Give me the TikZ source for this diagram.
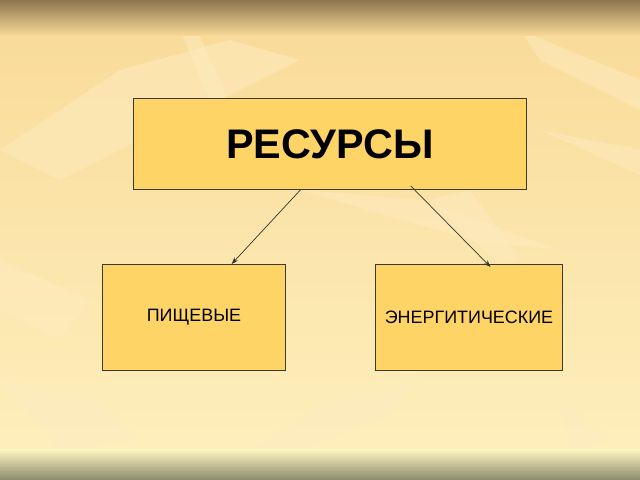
\documentclass[tikz,border=0pt]{standalone}
\usepackage{fontspec}
\setmainfont{Liberation Sans}
\usetikzlibrary{calc,arrows.meta}
\definecolor{bgbeige}{HTML}{F9DA98}
\definecolor{bgpale}{HTML}{FDF0BE}
\definecolor{leaflight}{HTML}{FDEBC0}
\definecolor{bandtop}{HTML}{8C7650}
\definecolor{bandbot}{HTML}{8A8A6C}
\definecolor{bandpale}{HTML}{FFF7C2}
\definecolor{boxfill}{HTML}{FFD466}
\definecolor{boxline}{HTML}{3C3A2C}
\tikzset{
  resbox/.style={draw=boxline,line width=0.9bp,fill=boxfill,inner sep=0pt},
  link/.style={draw=black!80,line width=0.7bp,-{Stealth[length=7bp,width=5bp]}},
  leaf/.style={fill=leaflight,opacity=0.5,draw=none}
}
\begin{document}
\begin{tikzpicture}[x=1bp,y=-1bp]
    \useasboundingbox (0,0) rectangle (640,480);
    % background of the slide
    \shade[top color=bgbeige,bottom color=bgpale] (0,0) rectangle (640,480);
    % faint leaves
    \fill[leaf] (0,150) -- (120,70) -- (230,40) -- (300,60) -- (200,110) -- (60,180) -- cycle;
    \fill[leaf] (180,30) -- (195,25) -- (250,150) -- (235,160) -- cycle;
    \fill[leaf] (300,190) -- (420,200) -- (560,250) -- (470,240) -- cycle;
    \fill[leaf] (520,30) -- (640,80) -- (640,110) -- (540,60) -- cycle;
    \fill[leaf] (540,130) -- (640,150) -- (640,175) -- cycle;
    \fill[leaf] (0,260) -- (90,300) -- (60,340) -- (0,310) -- cycle;
    \fill[leaf] (250,450) -- (330,400) -- (420,380) -- (380,420) -- (300,450) -- cycle;
    \fill[leaf] (560,400) -- (610,440) -- (570,450) -- cycle;
    \fill[leaf] (430,200) -- (470,190) -- (520,260) -- (500,265) -- cycle;
    \fill[leaf] (0,380) -- (100,400) -- (140,440) -- (60,450) -- cycle;
    % top and bottom bands
    \shade[top color=bandtop,bottom color=bgbeige] (0,0) rectangle (640,36);
    \shade[top color=bandpale,bottom color=bandbot] (0,449) rectangle (640,480);

    % boxes
    \node[resbox,minimum width=393bp,minimum height=91bp,anchor=north west,
          font=\fontsize{41.5}{46}\selectfont\bfseries] (res) at (133,98) {РЕСУРСЫ};
    \node[resbox,minimum width=183bp,minimum height=106bp,anchor=north west,
          font=\fontsize{18}{21}\selectfont] (food) at (102,264) {ПИЩЕВЫЕ};
    \node[resbox,minimum width=187bp,minimum height=106bp,anchor=north west,
          font=\fontsize{18}{21}\selectfont] (energy) at (375,264) {ЭНЕРГИТИЧЕСКИЕ};

    % arrows
    \draw[link] ($(res.south west)!0.425!(res.south east)$) -- ($(food.north west)!0.705!(food.north east)$);
    \draw[link] ($(res.south west)!0.705!(res.south east)+(0,-4)$) -- ($(energy.north west)!0.615!(energy.north east)+(0,3)$);
\end{tikzpicture}
\end{document}
